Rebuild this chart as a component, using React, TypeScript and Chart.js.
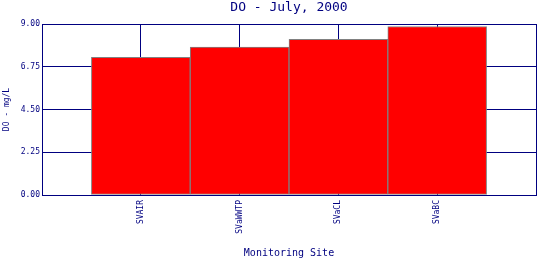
import React, { useEffect, useRef } from "react";
import { Chart, registerables } from "chart.js";

Chart.register(...registerables);

const sites = ["SVAIR", "SVaWWTP", "SVaCL", "SVaBC"];
const doValues = [7.25, 7.78, 8.19, 8.87];
const yTicks = [0, 2.25, 4.5, 6.75, 9];

const NAVY = "#000080";
const FONT = "'DejaVu Sans Mono', 'Liberation Mono', monospace";

export default function App() {
  const ref = useRef<HTMLCanvasElement | null>(null);

  useEffect(() => {
    if (!ref.current) return;
    const labels = ["", ...sites, ""];
    const data = [null, ...doValues, null];
    const chart = new Chart(ref.current, {
      type: "bar",
      data: {
        labels,
        datasets: [
          {
            data,
            backgroundColor: "#ff0000",
            borderColor: "#808080",
            borderWidth: 1,
            borderSkipped: false,
            barPercentage: 1,
            categoryPercentage: 1,
          },
        ],
      },
      options: {
        animation: false,
        responsive: false,
        maintainAspectRatio: false,
        layout: { padding: { left: 0, right: 4, top: 0, bottom: 0 } },
        plugins: {
          legend: { display: false },
          tooltip: { enabled: false },
          title: {
            display: true,
            text: "DO - July, 2000",
            color: NAVY,
            fullSize: false,
            font: { family: FONT, size: 13, weight: "normal" },
            padding: { top: 0, bottom: 8.4 },
          },
        },
        scales: {
          x: {
            type: "category",
            offset: false,
            grid: { color: NAVY, lineWidth: 1, drawTicks: false, offset: false },
            border: { color: NAVY },
            ticks: {
              color: NAVY,
              font: { family: FONT, size: 8 },
              minRotation: 90,
              maxRotation: 90,
              padding: 5,
              autoSkip: false,
            },
            title: {
              display: true,
              text: "Monitoring Site",
              color: NAVY,
              font: { family: FONT, size: 10 },
              padding: { top: 4, bottom: 1 },
            },
            afterFit: (s: any) => {
              s.height = 65;
              s.paddingLeft = 0;
              s.paddingRight = 0;
            },
          },
          y: {
            min: 0,
            max: 9,
            grid: { color: NAVY, lineWidth: 1, drawTicks: false },
            border: { color: NAVY },
            afterBuildTicks: (s: any) => {
              s.ticks = yTicks.map((v) => ({ value: v }));
            },
            ticks: {
              color: NAVY,
              font: { family: FONT, size: 8 },
              padding: 2,
              callback: (v: any) => Number(v).toFixed(2),
            },
            title: {
              display: true,
              text: "DO - mg/L",
              color: NAVY,
              font: { family: FONT, size: 8 },
              padding: { top: 2, bottom: 0 },
            },
            afterFit: (s: any) => {
              s.width = 42;
              s.paddingTop = 0;
              s.paddingBottom = 0;
            },
          },
        },
      },
    });
    return () => chart.destroy();
  }, []);

  return (
    <div style={{ position: "fixed", left: 0, top: 0, width: 540, height: 260, background: "#fff" }}>
      <canvas ref={ref} width={540} height={260} style={{ width: 540, height: 260, display: "block" }} />
    </div>
  );
}
